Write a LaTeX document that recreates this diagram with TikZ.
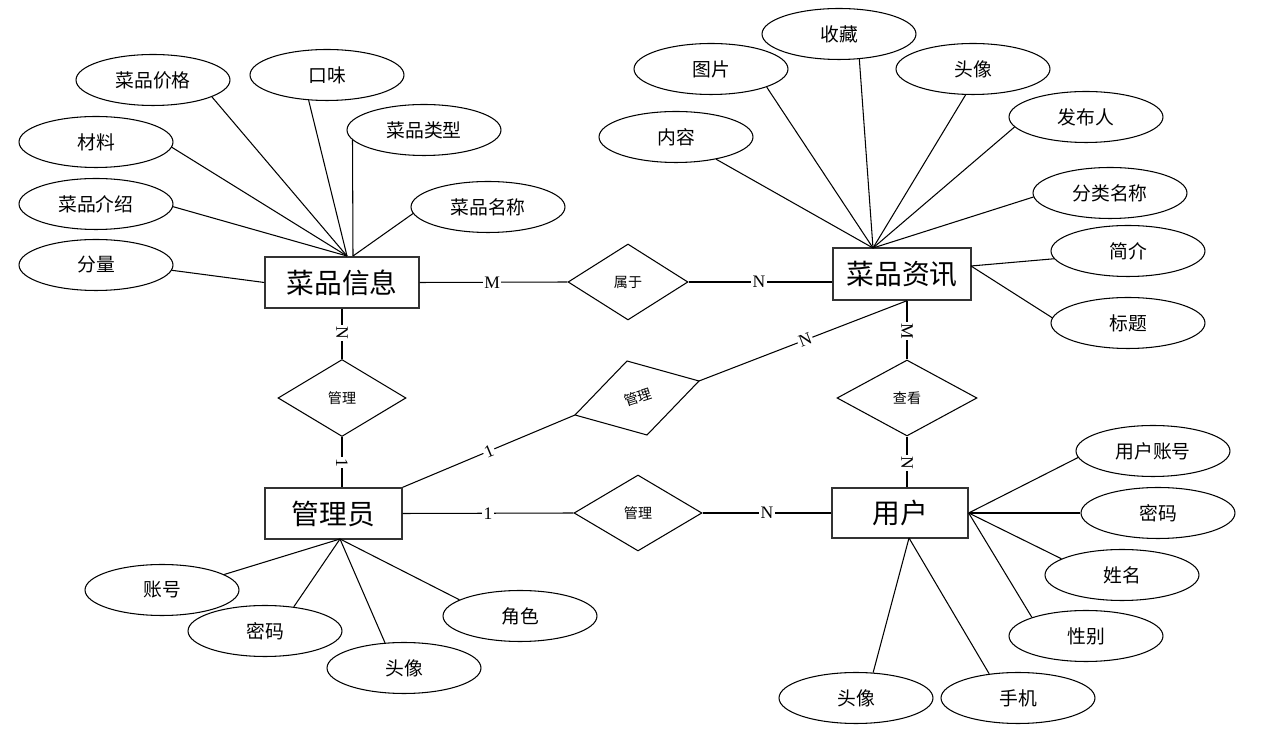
\documentclass[tikz,border=0pt]{standalone}
\usepackage{fontspec}
\setmainfont{Liberation Serif}
\newfontfamily\cjk{Noto Sans CJK SC}
\usetikzlibrary{shapes.geometric}
\begin{document}
\begin{tikzpicture}[x=0.02cm,y=-0.02cm,
  attr/.style={ellipse,draw,line width=0.6pt,minimum width=3.08cm,minimum height=1.02cm,inner sep=0pt,font=\cjk\fontsize{10.7}{12}\selectfont},
  ent/.style={rectangle,draw=black!80,line width=0.8pt,inner sep=0pt,font=\cjk\fontsize{15.8}{18}\selectfont},
  rel/.style={diamond,draw,line width=0.6pt,inner sep=0pt,minimum width=2.56cm,minimum height=1.54cm,font=\cjk\fontsize{8}{10}\selectfont},
  conn/.style={line width=0.6pt},
  card/.style={fill=white,inner sep=0.8pt,font=\fontsize{10}{11}\selectfont}]
\useasboundingbox (0,0) rectangle (1282,742);

% entities
\node[ent,minimum width=3.08cm,minimum height=1.02cm] (b1) at (342,282.5) {菜品信息};
\node[ent,minimum width=2.76cm,minimum height=1.04cm] (b2) at (902,274) {菜品资讯};
\node[ent,minimum width=2.74cm,minimum height=1.02cm] (b3) at (333.5,513.5) {管理员};
\node[ent,minimum width=2.72cm,minimum height=1.0cm] (b4) at (900,513) {用户};

% relationships
\node[rel,minimum width=2.4cm,minimum height=1.52cm] (r1) at (628,282) {属于};
\node[rel] (r2) at (342,398) {管理};
\node[rel,minimum width=2.8cm,minimum height=1.52cm] (r3) at (907,398) {查看};
\node[rel,minimum height=1.52cm] (r4) at (638,513) {管理};

% slanted relationship
\coordinate (sL) at (575,415);
\coordinate (sT) at (627,361);
\coordinate (sR) at (699,381);
\coordinate (sB) at (647,435);
\draw[conn] (sL) -- (sT) -- (sR) -- (sB) -- cycle;
\node[font=\cjk\fontsize{8}{10}\selectfont,rotate=18,inner sep=0pt] (r5) at (638,397) {管理};

% attributes of 菜品信息
\node[attr] (a1) at (153,80) {菜品价格};
\node[attr] (a2) at (327,75) {口味};
\node[attr] (a3) at (96,142) {材料};
\node[attr] (a4) at (424,130) {菜品类型};
\node[attr] (a5) at (96,204) {菜品介绍};
\node[attr] (a6) at (488,207) {菜品名称};
\node[attr] (a7) at (96,265) {分量};
\coordinate (cA) at (347,256);
\coordinate (cB) at (353,256);
\draw[conn] (a1.-16) -- (cA);
\draw[conn] (a2.-126) -- (cA);
\draw[conn] (a3.-4) -- (cA);
\draw[conn] (a5.-2) -- (cA);
\draw[conn] (a4.-172) -- (cB);
\draw[conn] (a6.-175) -- (cB);
\draw[conn] (a7.-4) -- (b1.west);

% attributes of 菜品资讯
\node[attr] (n1) at (839,34) {收藏};
\node[attr] (n2) at (711,69) {图片};
\node[attr] (n3) at (973,69) {头像};
\node[attr] (n4) at (1086,117) {发布人};
\node[attr] (n5) at (676,137) {内容};
\node[attr] (n6) at (1110,193) {分类名称};
\node[attr] (n7) at (1128,251) {简介};
\node[attr] (n8) at (1128,323) {标题};
\coordinate (cR) at (873,248);
\coordinate (cE) at (971,266);
\draw[conn] (n1.-51) -- (cR);
\draw[conn] (n2.-18) -- (cR);
\draw[conn] (n3.-106) -- (cR);
\draw[conn] (n4.-172) -- (cR);
\draw[conn] (n5.-29) -- (cR);
\draw[conn] (n6.-177) -- (cR);
\draw[conn] (n7.-174) -- (cE);
\draw[conn] (n8.176) -- (cE);

% attributes of 管理员
\node[attr] (m1) at (162,590) {账号};
\node[attr] (m2) at (265,631) {密码};
\node[attr] (m3) at (404,668) {头像};
\node[attr] (m4) at (520,616) {角色};
\coordinate (cM) at (340,539);
\draw[conn] (m1.14) -- (cM);
\draw[conn] (m2.40) -- (cM);
\draw[conn] (m3.127) -- (cM);
\draw[conn] (m4.165) -- (cM);

% attributes of 用户
\node[attr] (u1) at (1153,451) {用户账号};
\node[attr] (u2) at (1158,513) {密码};
\node[attr] (u3) at (1122,575) {姓名};
\node[attr] (u4) at (1086,636) {性别};
\node[attr] (u5) at (856,698) {头像};
\node[attr] (u6) at (1018,698) {手机};
\coordinate (cD) at (909,538);
\draw[conn] (u1.-175) -- (b4.east);
\draw[conn] (u2.180) -- (b4.east);
\draw[conn] (u3.165) -- (b4.east);
\draw[conn] (u4.161) -- (b4.east);
\draw[conn] (u5.56) -- (cD);
\draw[conn] (u6.140) -- (cD);

% relationship connectors
\draw[conn] (b1.east) -- (r1.west) node[card,pos=0.49] {M};
\draw[conn] (r1.east) -- (r1.east -| b2.west) node[card,pos=0.49] {N};
\draw[conn] (b1.south) -- (r2.north) node[card,rotate=-90,pos=0.48] {N};
\draw[conn] (r2.south) -- (r2.south |- b3.north) node[card,rotate=-90,pos=0.51] {1};
\draw[conn] (r3.north) -- (r3.north |- b2.south) node[card,rotate=-90,pos=0.48] {M};
\draw[conn] (r3.south) -- (r3.south |- b4.north) node[card,rotate=-90,pos=0.52] {N};
\draw[conn] (b3.east) -- (r4.west) node[card,pos=0.5] {1};
\draw[conn] (r4.east) -- (r4.east -| b4.west) node[card,pos=0.5] {N};
\draw[conn] (b3.north east) -- (sL) node[card,rotate=22.6,pos=0.5] {1};
\draw[conn] (sR) -- (r3.north |- b2.south) node[card,rotate=21.3,pos=0.51] {N};
\end{tikzpicture}
\end{document}
